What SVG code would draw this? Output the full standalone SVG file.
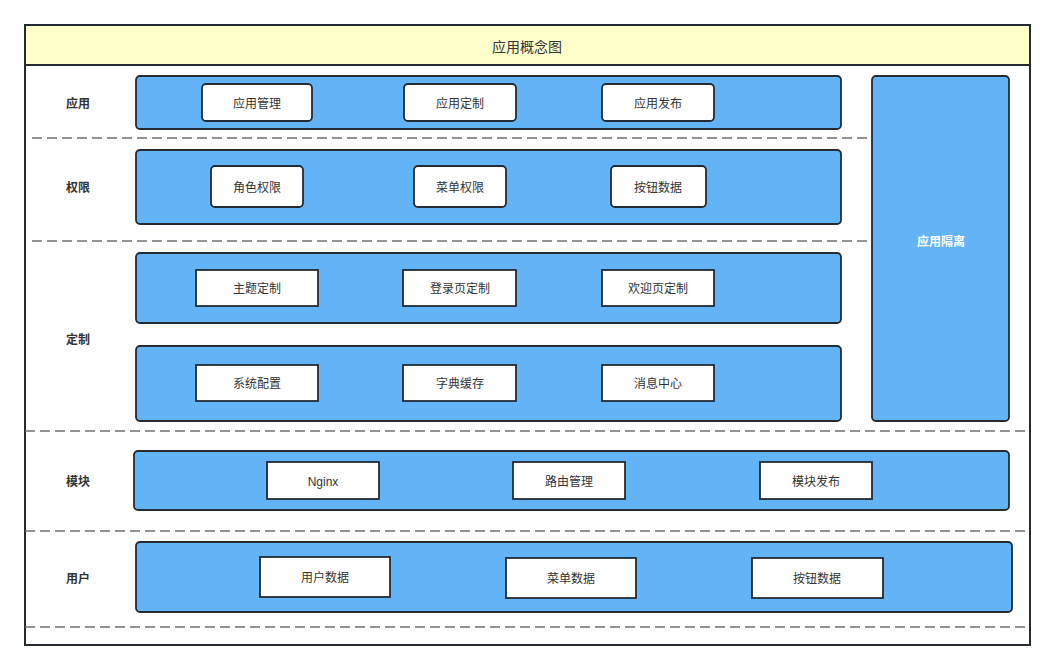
<svg xmlns="http://www.w3.org/2000/svg" width="1056" height="670" viewBox="0 0 1056 670">
<style>
text{font-family:"Liberation Sans","Noto Sans CJK SC",sans-serif;fill:#333;text-anchor:middle;dominant-baseline:central}
.lane{fill:#62b4f6;stroke:#242b33;stroke-width:1.8}
.box{fill:#fff;stroke:#242b33;stroke-width:1.8}
.t{font-size:12px}
.lbl{font-size:12px;font-weight:bold}
.dash{stroke:#707070;stroke-width:1.5;stroke-dasharray:10 5;fill:none}
</style>
<rect x="0" y="0" width="1056" height="670" fill="#fff"/>
<g id="frame">
<rect x="25" y="25" width="1005" height="620" fill="#fff" stroke="#242b33" stroke-width="2"/>
<rect x="25" y="25" width="1005" height="40" fill="#ffffcc" stroke="#242b33" stroke-width="2"/>
<text x="527" y="47" style="font-size:14px">应用概念图</text>
</g>
<g id="separators">
<line class="dash" x1="32" y1="138" x2="870" y2="138"/>
<line class="dash" x1="32" y1="241" x2="870" y2="241"/>
<line class="dash" x1="25" y1="431" x2="1028" y2="431"/>
<line class="dash" x1="25" y1="531" x2="1028" y2="531"/>
<line class="dash" x1="25" y1="627" x2="1028" y2="627"/>
</g>
<g id="labels">
<text class="lbl" x="78" y="104">应用</text>
<text class="lbl" x="78" y="188">权限</text>
<text class="lbl" x="78" y="340">定制</text>
<text class="lbl" x="78" y="482">模块</text>
<text class="lbl" x="78" y="579">用户</text>
</g>
<g id="isolation">
<rect class="lane" x="872" y="76" width="137" height="345" rx="4"/>
<text x="941" y="242" style="font-size:12px;font-weight:bold;fill:#fff">应用隔离</text>
</g>
<g id="row-app">
<rect class="lane" x="136" y="76" width="705" height="53" rx="4"/>
<g id="app-mgmt"><rect class="box" x="202" y="84" width="110" height="37" rx="4"/><text class="t" x="257" y="104">应用管理</text></g>
<g id="app-custom"><rect class="box" x="404" y="84" width="112" height="37" rx="4"/><text class="t" x="460" y="104">应用定制</text></g>
<g id="app-publish"><rect class="box" x="602" y="84" width="112" height="37" rx="4"/><text class="t" x="658" y="104">应用发布</text></g>
</g>
<g id="row-perm">
<rect class="lane" x="136" y="150" width="705" height="74" rx="4"/>
<g id="role-perm"><rect class="box" x="211" y="166" width="92" height="41" rx="4"/><text class="t" x="257" y="188">角色权限</text></g>
<g id="menu-perm"><rect class="box" x="414" y="166" width="92" height="41" rx="4"/><text class="t" x="460" y="188">菜单权限</text></g>
<g id="btn-perm"><rect class="box" x="611" y="166" width="95" height="41" rx="4"/><text class="t" x="658" y="188">按钮数据</text></g>
</g>
<g id="row-custom1">
<rect class="lane" x="136" y="253" width="705" height="70" rx="4"/>
<g id="theme"><rect class="box" x="196" y="270" width="122" height="36"/><text class="t" x="257" y="289">主题定制</text></g>
<g id="login"><rect class="box" x="403" y="270" width="113" height="36"/><text class="t" x="460" y="289">登录页定制</text></g>
<g id="welcome"><rect class="box" x="602" y="270" width="112" height="36"/><text class="t" x="658" y="289">欢迎页定制</text></g>
</g>
<g id="row-custom2">
<rect class="lane" x="136" y="346" width="705" height="75" rx="4"/>
<g id="sysconf"><rect class="box" x="196" y="365" width="122" height="36"/><text class="t" x="257" y="384">系统配置</text></g>
<g id="dict"><rect class="box" x="403" y="365" width="113" height="36"/><text class="t" x="460" y="384">字典缓存</text></g>
<g id="msg"><rect class="box" x="602" y="365" width="112" height="36"/><text class="t" x="658" y="384">消息中心</text></g>
</g>
<g id="row-module">
<rect class="lane" x="134" y="451" width="875" height="59" rx="4"/>
<g id="nginx"><rect class="box" x="267" y="462" width="112" height="37"/><text class="t" x="323" y="482">Nginx</text></g>
<g id="route"><rect class="box" x="513" y="462" width="112" height="37"/><text class="t" x="569" y="482">路由管理</text></g>
<g id="modpub"><rect class="box" x="760" y="462" width="112" height="37"/><text class="t" x="816" y="482">模块发布</text></g>
</g>
<g id="row-user">
<rect class="lane" x="136" y="542" width="876" height="70" rx="4"/>
<g id="userdata"><rect class="box" x="260" y="557" width="130" height="40"/><text class="t" x="325" y="578">用户数据</text></g>
<g id="menudata"><rect class="box" x="506" y="558" width="130" height="40"/><text class="t" x="571" y="579">菜单数据</text></g>
<g id="btndata"><rect class="box" x="752" y="558" width="131" height="40"/><text class="t" x="817" y="579">按钮数据</text></g>
</g>
<g id="connectors"></g>
</svg>
